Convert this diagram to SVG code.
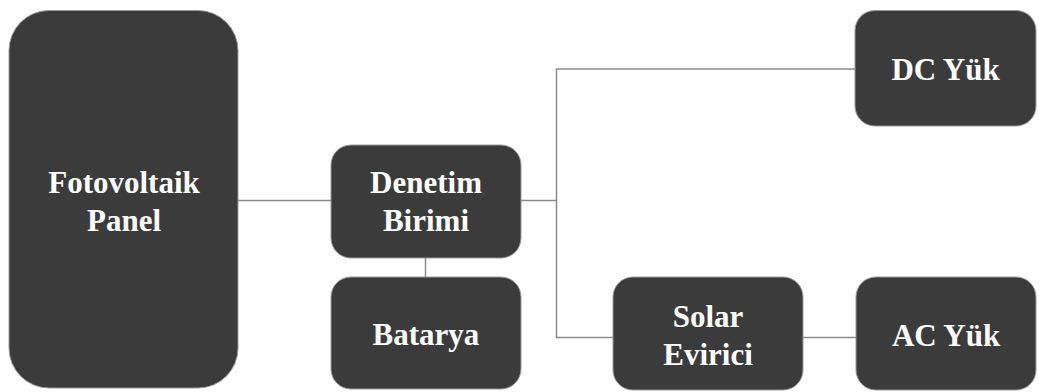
<svg xmlns="http://www.w3.org/2000/svg" width="1039" height="392" viewBox="0 0 1039 392">
  <style>
    .box { fill: #3b3b3b; stroke: #9a9a9a; stroke-width: 1; }
    .label { fill: #ffffff; font-family: 'Liberation Serif', 'Times New Roman', serif; font-weight: 700; font-size: 31px; text-anchor: middle; }
    .wire { fill: none; stroke: #8a8a8a; stroke-width: 1.5; }
  </style>
  <rect width="1039" height="392" fill="#ffffff"/>

  <!-- connectors -->
  <g id="connectors">
    <line class="wire" x1="238" y1="200.5" x2="331" y2="200.5"/>
    <line class="wire" x1="425.5" y1="258" x2="425.5" y2="277"/>
    <polyline class="wire" points="521,200.5 556.5,200.5"/>
    <polyline class="wire" points="855,69 556.5,69 556.5,337.5 613,337.5"/>
    <line class="wire" x1="803" y1="337.5" x2="856" y2="337.5"/>
  </g>

  <g id="fotovoltaik-panel">
    <rect class="box" x="9" y="10.5" width="229" height="377.5" rx="40" ry="40"/>
    <text class="label" x="124" y="193">Fotovoltaik</text>
    <text class="label" x="124" y="231">Panel</text>
  </g>

  <g id="denetim-birimi">
    <rect class="box" x="331" y="145" width="190" height="113" rx="20" ry="20"/>
    <text class="label" x="426" y="193">Denetim</text>
    <text class="label" x="426" y="231">Birimi</text>
  </g>

  <g id="batarya">
    <rect class="box" x="331" y="277" width="190" height="112" rx="20" ry="20"/>
    <text class="label" x="426" y="345">Batarya</text>
  </g>

  <g id="dc-yuk">
    <rect class="box" x="855" y="10.5" width="181" height="115.5" rx="20" ry="20"/>
    <text class="label" x="945.5" y="80">DC Yük</text>
  </g>

  <g id="solar-evirici">
    <rect class="box" x="613" y="277" width="190" height="113" rx="20" ry="20"/>
    <text class="label" x="708" y="327">Solar</text>
    <text class="label" x="708" y="365">Evirici</text>
  </g>

  <g id="ac-yuk">
    <rect class="box" x="856" y="277" width="180" height="113" rx="20" ry="20"/>
    <text class="label" x="946" y="346">AC Yük</text>
  </g>
</svg>
